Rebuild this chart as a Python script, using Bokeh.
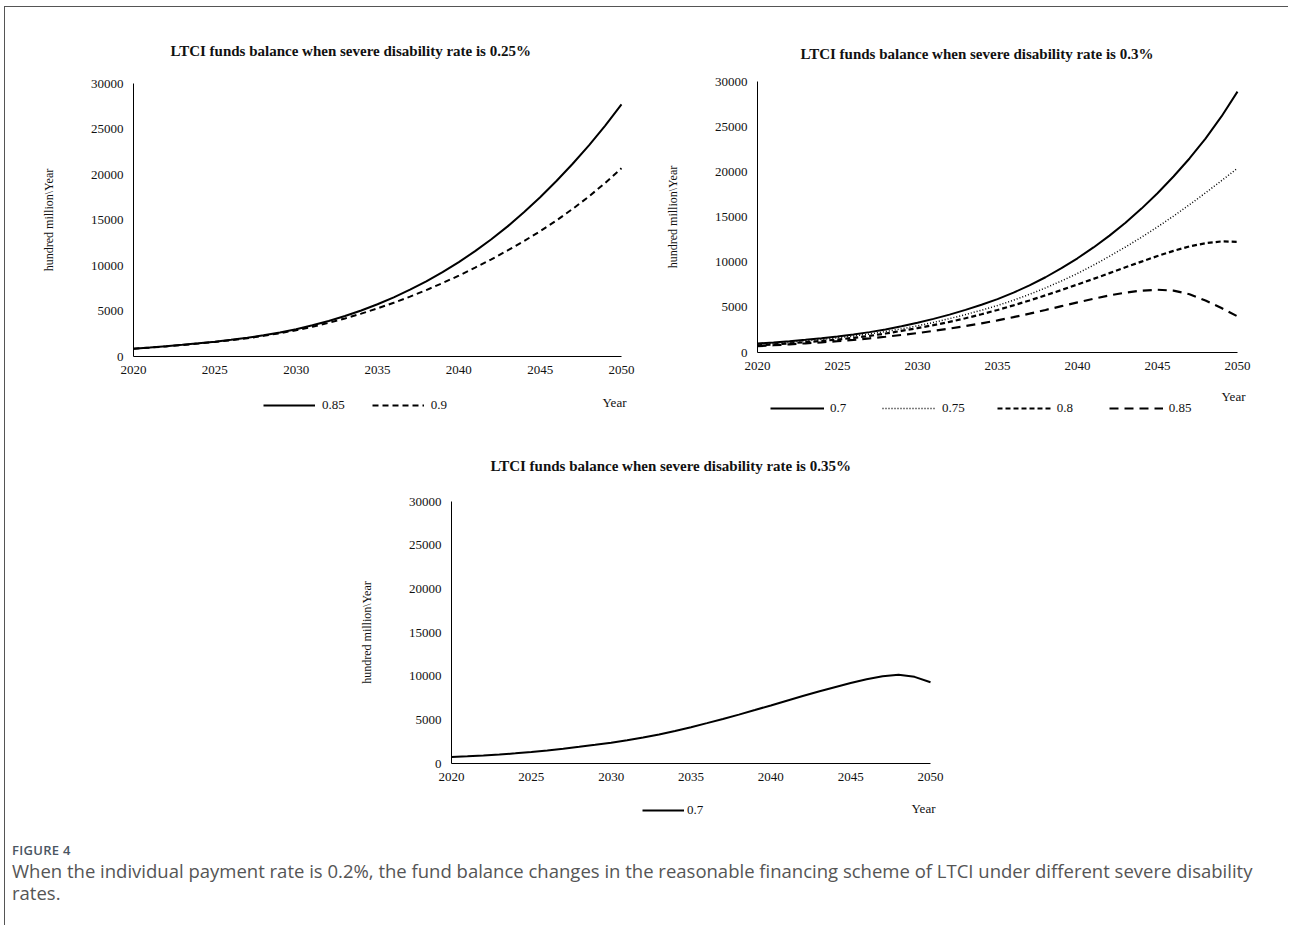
from bokeh.plotting import figure
from bokeh.models import Legend, LegendItem, Div, Spacer, FixedTicker, Label
from bokeh.layouts import column, row
from bokeh.embed import file_html
from bokeh.resources import INLINE

# ---------------- data ----------------
years = list(range(2020, 2051))
x_ticks = [2020, 2025, 2030, 2035, 2040, 2045, 2050]
y_ticks = [0, 5000, 10000, 15000, 20000, 25000, 30000]

# severe disability rate 0.25%
d025_085 = [850, 980, 1120, 1280, 1450, 1630, 1830, 2060, 2330, 2640,
            3000, 3430, 3910, 4450, 5060, 5740, 6500, 7340, 8260, 9270,
            10370, 11580, 12880, 14300, 15840, 17500, 19280, 21180, 23200, 25380, 27700]
d025_090 = [850, 975, 1110, 1255, 1420, 1600, 1790, 2010, 2270, 2560,
            2890, 3270, 3700, 4180, 4710, 5290, 5910, 6580, 7300, 8070,
            8890, 9760, 10680, 11650, 12680, 13770, 14950, 16220, 17590, 19080, 20690]

# severe disability rate 0.3%
d030_070 = [1000, 1120, 1255, 1405, 1575, 1770, 1995, 2255, 2555, 2900,
            3290, 3720, 4195, 4715, 5285, 5910, 6630, 7430, 8330, 9330,
            10430, 11630, 12940, 14370, 15930, 17630, 19480, 21480, 23680, 26130, 28880]
d030_075 = [900, 1015, 1145, 1290, 1445, 1620, 1820, 2055, 2320, 2620,
            2950, 3330, 3750, 4200, 4680, 5200, 5790, 6440, 7150, 7920,
            8750, 9670, 10650, 11680, 12760, 13900, 15100, 16360, 17670, 19020, 20400]
d030_080 = [800, 900, 1015, 1140, 1280, 1430, 1620, 1840, 2100, 2390,
            2700, 3030, 3390, 3790, 4230, 4710, 5220, 5760, 6330, 6920,
            7530, 8150, 8790, 9430, 10060, 10680, 11250, 11750, 12100, 12300, 12250]
d030_085 = [700, 800, 905, 1015, 1130, 1250, 1400, 1565, 1745, 1940,
            2150, 2390, 2650, 2930, 3230, 3550, 3910, 4300, 4710, 5130,
            5550, 5950, 6320, 6630, 6850, 6950, 6850, 6450, 5750, 4920, 4000]

# severe disability rate 0.35%
d035_070 = [750, 830, 920, 1030, 1160, 1310, 1490, 1690, 1910, 2140,
            2380, 2660, 2970, 3320, 3720, 4160, 4620, 5100, 5600, 6120,
            6650, 7190, 7720, 8240, 8740, 9210, 9650, 10000, 10150, 9920, 9310]

titles = ["LTCI funds balance when severe disability rate is 0.25%",
          "LTCI funds balance when severe disability rate is 0.3%",
          "LTCI funds balance when severe disability rate is 0.35%"]
y_label = "hundred million\\Year"
x_label = "Year"
caption_head = "FIGURE 4"
caption_text = ("When the individual payment rate is 0.2%, the fund balance changes in the "
                "reasonable financing scheme of LTCI under different severe disability rates.")

SERIF = "Liberation Serif"


def make_fig(title, width, height, top_border, title_offset, title_standoff,
             ax_left, ax_right, ax_top, ax_bottom):
    """ax_* are pixel positions (within the frame) of 2020, 2050, 30000 and 0."""
    fw = width
    fh = height - top_border
    x0, x1 = x_ticks[0], x_ticks[-1]
    y0, y1 = y_ticks[0], y_ticks[-1]
    kx = (x1 - x0) / (ax_right - ax_left)
    ky = (y1 - y0) / (ax_bottom - ax_top)
    x_range = (x0 - ax_left * kx, x1 + (fw - ax_right) * kx)
    y_range = (y0 - (fh - ax_bottom) * ky, y1 + ax_top * ky)
    p = figure(width=width, height=height, x_range=x_range, y_range=y_range,
               output_backend="svg", toolbar_location=None,
               min_border_left=0, min_border_right=0,
               min_border_top=top_border, min_border_bottom=0)
    p.title.text = title
    p.title.text_font = SERIF
    p.title.text_font_size = "15px"
    p.title.text_font_style = "bold"
    p.title.text_color = "#111111"
    p.title.align = "left"
    p.title.offset = title_offset
    p.title.standoff = title_standoff
    p.xgrid.visible = False
    p.ygrid.visible = False
    p.outline_line_color = None
    for ax in (p.xaxis[0], p.yaxis[0]):
        ax.axis_line_color = "#000000"
        ax.axis_line_width = 1
        ax.major_tick_in = 0
        ax.major_tick_out = 0
        ax.minor_tick_in = 0
        ax.minor_tick_out = 0
        ax.major_label_text_font = SERIF
        ax.major_label_text_font_size = "13px"
        ax.major_label_text_color = "#111111"
    p.xaxis.ticker = FixedTicker(ticks=x_ticks)
    p.yaxis.ticker = FixedTicker(ticks=y_ticks)
    p.xaxis.bounds = (x0, x1)
    p.yaxis.bounds = (y0, y1)
    p.xaxis.fixed_location = y0
    p.yaxis.fixed_location = x0
    p.xaxis.major_label_standoff = 9
    p.yaxis.major_label_standoff = 10
    p.yaxis.axis_label = y_label
    p.yaxis.axis_label_text_font = SERIF
    p.yaxis.axis_label_text_font_size = "12px"
    p.yaxis.axis_label_text_font_style = "normal"
    p.yaxis.axis_label_text_color = "#111111"
    p.yaxis.axis_label_standoff = 32
    return p


def add_legend(p, items, vx, vy, glyph_width, standoff, spacing):
    lg = Legend(items=items, orientation="horizontal", location=(vx, vy),
                border_line_color=None, background_fill_alpha=0,
                label_text_font=SERIF, label_text_font_size="13px",
                label_text_color="#111111",
                glyph_width=glyph_width, glyph_height=14, label_height=14,
                label_standoff=standoff, spacing=spacing, padding=0, margin=0)
    p.add_layout(lg, "center")


def add_year(p, x_off, y_off):
    p.add_layout(Label(x=x_ticks[-1], y=y_ticks[0], x_offset=x_off, y_offset=y_off,
                       text=x_label, text_font=SERIF, text_font_size="13px",
                       text_color="#111111", text_align="center", text_baseline="middle"))


# ---------- chart 1 (page x 5..640, y 7..425) ----------
p1 = make_fig(titles[0], 635, 418, 63, 165, 24, 128, 616, 13, 286)
r11 = p1.line(years, d025_085, line_color="black", line_width=2)
r12 = p1.line(years, d025_090, line_color="black", line_width=2, line_dash="6 4")
add_legend(p1, [LegendItem(label="0.85", renderers=[r11]),
                LegendItem(label="0.9", renderers=[r12])], 258, 12, 52, 7, 27)
add_year(p1, -7, -46)

# ---------- chart 2 (page x 640..1288, y 7..425) ----------
p2 = make_fig(titles[1], 648, 418, 63, 160, 17, 117, 597, 11, 282)
r21 = p2.line(years, d030_070, line_color="black", line_width=2)
r22 = p2.line(years, d030_075, line_color="black", line_width=1.5, line_dash="1 2")
r23 = p2.line(years, d030_080, line_color="black", line_width=2.2, line_dash="5 3")
r24 = p2.line(years, d030_085, line_color="black", line_width=2.2, line_dash="9 6")
add_legend(p2, [LegendItem(label="0.7", renderers=[r21]),
                LegendItem(label="0.75", renderers=[r22]),
                LegendItem(label="0.8", renderers=[r23]),
                LegendItem(label="0.85", renderers=[r24])], 130, 9, 54, 6, 32)
add_year(p2, -4, -44)

# ---------- chart 3 (page x 330..960, y 425..835) ----------
p3 = make_fig(titles[2], 630, 410, 57, 160, 17, 121, 600, 19, 281)
r31 = p3.line(years, d035_070, line_color="black", line_width=2)
add_legend(p3, [LegendItem(label="0.7", renderers=[r31])], 312, 17, 42, 3, 20)
add_year(p3, -7, -45)

caption = Div(
    text=(f'<div style="font-family:\'Open Sans\',sans-serif;padding:0 0 0 2px;">'
          f'<div style="font-size:13px;font-weight:600;color:#4a5663;letter-spacing:0.3px;'
          f'line-height:20px;">{caption_head}</div>'
          f'<div style="font-size:18.5px;color:#555555;line-height:22px;width:1250px;">'
          f'{caption_text}</div></div>'),
    width=1265, height=80)

inner = column(row(p1, p2), row(Spacer(width=325, height=410), p3), caption,
               styles={"border-top": "1px solid #555555", "border-left": "1px solid #555555"})
layout = column(Spacer(width=10, height=6), row(Spacer(width=4, height=10), inner))

open("out.html", "w").write(file_html(layout, INLINE))
